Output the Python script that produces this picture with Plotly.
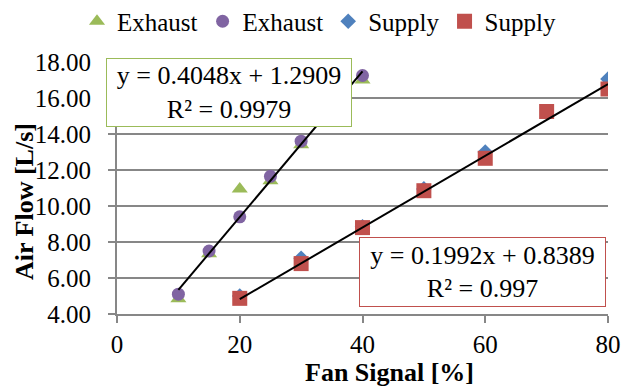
import plotly.graph_objects as go

# Fan signal [%] and measured air flow [L/s]
exhaust_a_x = [10, 15, 20, 25, 30, 40]
exhaust_a_y = [4.85, 7.35, 10.95, 11.4, 13.4, 17.0]

exhaust_b_x = [10, 15, 20, 25, 30, 40]
exhaust_b_y = [5.1, 7.5, 9.4, 11.65, 13.6, 17.25]

supply_a_x = [20, 30, 40, 50, 60, 80]
supply_a_y = [5.0, 7.1, 8.85, 10.95, 13.0, 17.05]

supply_b_x = [20, 30, 40, 50, 60, 70, 80]
supply_b_y = [4.87, 6.8, 8.8, 10.85, 12.65, 15.25, 16.5]

# Linear trendline coefficients (slope, intercept, R²) and their x spans
exhaust_fit = (0.4048, 1.2909, 0.9979)
exhaust_fit_span = [10, 40]
supply_fit = (0.1992, 0.8389, 0.997)
supply_fit_span = [20, 80]

y_ticks = [4, 6, 8, 10, 12, 14, 16, 18]
x_ticks = [0, 20, 40, 60, 80]

GREEN = "#9BBB59"
PURPLE = "#8064A2"
BLUE = "#4F81BD"
RED = "#C0504D"
GRID = "#878787"
FONT = "Liberation Serif"

fig = go.Figure()

fig.add_trace(go.Scatter(
    x=exhaust_a_x, y=exhaust_a_y, mode="markers", name="Exhaust",
    marker=dict(symbol="triangle-up", size=14, color=GREEN),
))
fig.add_trace(go.Scatter(
    x=exhaust_b_x, y=exhaust_b_y, mode="markers", name="Exhaust",
    marker=dict(symbol="circle", size=13, color=PURPLE),
))
fig.add_trace(go.Scatter(
    x=supply_a_x, y=supply_a_y, mode="markers", name="Supply",
    marker=dict(symbol="diamond", size=12, color=BLUE),
))
fig.add_trace(go.Scatter(
    x=supply_b_x, y=supply_b_y, mode="markers", name="Supply",
    marker=dict(symbol="square", size=15, color=RED),
))


def fit_line(coeffs, span):
    m, b, _ = coeffs
    return span, [m * v + b for v in span]


for coeffs, span in [(exhaust_fit, exhaust_fit_span), (supply_fit, supply_fit_span)]:
    lx, ly = fit_line(coeffs, span)
    fig.add_trace(go.Scatter(
        x=lx, y=ly, mode="lines", showlegend=False, hoverinfo="skip",
        line=dict(color="black", width=2),
    ))


def eq_text(coeffs):
    m, b, r2 = coeffs
    return f"y = {m:.4f}x + {b:.4f}<br>R² = {r2:g}"


# Plot area: 117..608 px horizontally, 62..314 px vertically
def px_x(px):
    return (px - 117) / 491


def px_y(py):
    return (314 - py) / 252


fig.add_annotation(
    x=px_x(229), y=px_y(92.5), xref="paper", yref="paper",
    xanchor="center", yanchor="middle", showarrow=False,
    text=eq_text(exhaust_fit), align="center",
    width=244, height=67, borderpad=0,
    bgcolor="white", bordercolor=GREEN, borderwidth=1,
    font=dict(family=FONT, size=26, color="black"),
)
fig.add_annotation(
    x=px_x(482.5), y=px_y(271.5), xref="paper", yref="paper",
    xanchor="center", yanchor="middle", showarrow=False,
    text=eq_text(supply_fit), align="center",
    width=245, height=68, borderpad=0,
    bgcolor="white", bordercolor=RED, borderwidth=1,
    font=dict(family=FONT, size=26, color="black"),
)

# Axis titles
fig.add_annotation(
    x=px_x(389), y=px_y(372.5), xref="paper", yref="paper",
    xanchor="center", yanchor="middle", showarrow=False,
    text="<b>Fan Signal [%]</b>",
    font=dict(family=FONT, size=26, color="black"),
)
fig.add_annotation(
    x=px_x(24), y=px_y(202), xref="paper", yref="paper",
    xanchor="center", yanchor="middle", showarrow=False, textangle=-90,
    text="<b>Air Flow [L/s]</b>",
    font=dict(family=FONT, size=26, color="black"),
)

fig.update_layout(
    width=621, height=387,
    margin=dict(l=117, r=13, t=62, b=73, autoexpand=False),
    paper_bgcolor="white", plot_bgcolor="white",
    font=dict(family=FONT, size=25, color="black"),
    showlegend=True,
    legend=dict(
        orientation="h", xref="container", yref="container",
        x=0.124, y=1 - 21.5 / 387, xanchor="left", yanchor="middle",
        font=dict(family=FONT, size=25, color="black"),
        bgcolor="rgba(0,0,0,0)", itemwidth=30, tracegroupgap=0,
    ),
    xaxis=dict(
        range=[0, 80], tickvals=x_ticks, showgrid=False, zeroline=False,
        showline=True, linecolor=GRID, linewidth=2,
        ticks="outside", ticklen=7, tickcolor=GRID, tickwidth=2,
        ticklabelstandoff=0,
        tickfont=dict(family=FONT, size=25, color="black"),
    ),
    yaxis=dict(
        range=[4, 18], tickvals=y_ticks, tickformat=".2f",
        showgrid=True, gridcolor=GRID, gridwidth=2, zeroline=False,
        showline=True, linecolor=GRID, linewidth=2,
        ticks="outside", ticklen=7, tickcolor=GRID, tickwidth=2,
        ticklabelstandoff=12,
        tickfont=dict(family=FONT, size=25, color="black"),
    ),
)

fig.write_html("out.html")
